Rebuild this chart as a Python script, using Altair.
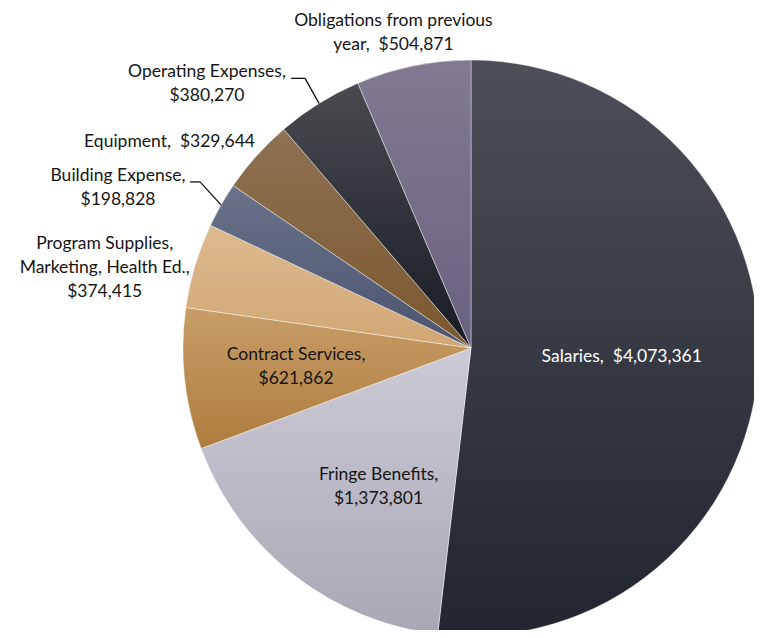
import altair as alt
import pandas as pd

# ---------------- data ----------------
categories = [
    "Salaries",
    "Fringe Benefits",
    "Contract Services",
    "Program Supplies, Marketing, Health Ed.",
    "Building Expense",
    "Equipment",
    "Operating Expenses",
    "Obligations from previous year",
]
values = [4073361, 1373801, 621862, 374415, 198828, 329644, 380270, 504871]
# text of the data labels (name part, then separator before the amount)
label_names = [
    "Salaries",
    "Fringe Benefits",
    "Contract Services",
    "Program Supplies,\nMarketing, Health Ed.",
    "Building Expense",
    "Equipment",
    "Operating Expenses",
    "Obligations from previous\nyear",
]
label_seps = ["\u00a0 ", "\n", "\n", "\n", "\n", "\u00a0 ", "\n", "\u00a0 "]

labels = [f"{n},{s}${v:,}" for n, s, v in zip(label_names, label_seps, values)]
df = pd.DataFrame({"idx": list(range(len(categories))), "category": categories,
                   "value": values, "label": labels})
total = sum(values)

# ---------------- styles / layout ----------------
CX, CY, R = 463, 340, 288
grad = {
    "Salaries": ("#4c4f57", "#21252f"),
    "Fringe Benefits": ("#cccad5", "#a9a7b4"),
    "Contract Services": ("#c89d68", "#ae7d3e"),
    "Program Supplies, Marketing, Health Ed.": ("#dcba8f", "#d2a674"),
    "Building Expense": ("#6a738a", "#4b5370"),
    "Equipment": ("#8f7254", "#7a582e"),
    "Operating Expenses": ("#4a4b51", "#181b23"),
    "Obligations from previous year": ("#817a92", "#6a6181"),
}
# radius, dx, dy for each label
label_layout = {
    "Salaries": (151, 0, 0),
    "Fringe Benefits": (166, 10, -4),
    "Contract Services": (176, 0, -12),
    "Program Supplies, Marketing, Health Ed.": (374, -8, 3),
    "Building Expense": (386, -18, 20),
    "Equipment": (362, -32, 36),
    "Operating Expenses": (364, -72, 33),
    "Obligations from previous year": (327, -12, -7),
}
label_color = {"Salaries": "#ffffff"}
# elbow offset from pie edge (dx, dy) and horizontal length
leader_layout = {
    "Operating Expenses": (-14, -25, -14),
    "Building Expense": (-21, -23, -10),
}

theta_scale = alt.Scale(domain=[0, total], range=[0, 6.283185307179586])

base = (
    alt.Chart(df)
    .transform_window(cum="sum(value)", sort=[alt.SortField("idx")], frame=[None, 0])
    .transform_calculate(start="datum.cum - datum.value", mid="datum.cum - datum.value / 2")
)

layers = []
for c in categories:
    top, bot = grad[c]
    g = alt.LinearGradient(
        gradient="linear",
        stops=[alt.GradientStop(color=top, offset=0), alt.GradientStop(color=bot, offset=1)],
        x1=0, x2=0, y1=0, y2=1,
    )
    layers.append(
        base.transform_filter(alt.datum.category == c)
        .mark_arc(outerRadius=R, fill=g, stroke="#ffffff", strokeWidth=0.7, strokeOpacity=0.6)
        .encode(
            theta=alt.Theta("start:Q", scale=theta_scale),
            theta2="cum:Q",
            x=alt.value(CX),
            y=alt.value(CY),
        )
    )

for c in categories:
    r, dx, dy = label_layout[c]
    layers.append(
        base.transform_filter(alt.datum.category == c)
        .mark_text(radius=r, dx=dx, dy=dy, font="Lato", fontSize=17.5, lineHeight=24,
                   lineBreak="\n", align="center", baseline="middle",
                   color=label_color.get(c, "#151515"))
        .encode(
            theta=alt.Theta("mid:Q", scale=theta_scale),
            text="label:N",
            x=alt.value(CX),
            y=alt.value(CY),
        )
    )

for c, (ex, ey, h) in leader_layout.items():
    lb = base.transform_filter(alt.datum.category == c).transform_calculate(
        a=f"2 * PI * datum.mid / {total}",
    ).transform_calculate(
        px=f"{CX} + {R} * sin(datum.a)",
        py=f"{CY} - {R} * cos(datum.a)",
    ).transform_calculate(
        kx=f"datum.px + ({ex})",
        ky=f"datum.py + ({ey})",
    ).transform_calculate(
        hx=f"datum.kx + ({h})",
    )
    layers.append(
        lb.mark_rule(color="#111111", strokeWidth=1.3).encode(
            x=alt.X("px:Q", scale=None), y=alt.Y("py:Q", scale=None),
            x2="kx:Q", y2="ky:Q",
        )
    )
    layers.append(
        lb.mark_rule(color="#111111", strokeWidth=1.3).encode(
            x=alt.X("kx:Q", scale=None), y=alt.Y("ky:Q", scale=None),
            x2="hx:Q", y2="ky:Q",
        )
    )

chart = (
    alt.layer(*layers)
    .properties(width=746, height=622, autosize="none", padding=0, background="#ffffff")
    .configure_view(stroke=None)
)

chart.save("out.html", embed_options={"renderer": "svg", "actions": False})
